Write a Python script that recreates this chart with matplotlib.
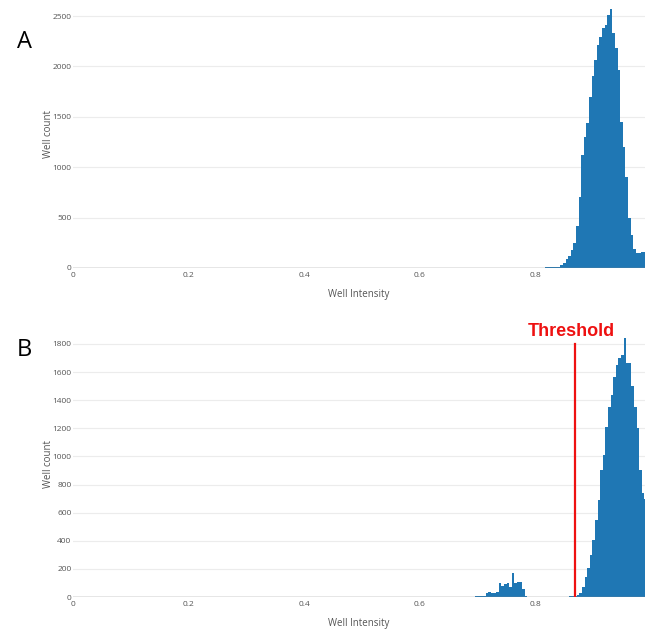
import numpy as np
import matplotlib.pyplot as plt

# histogram bin width (well intensity)
binW = 0.0045

# panel A - counts per bin, first bin starts at aStart
aStart = 0.803
aCounts = [1, 2, 4, 6, 8, 9, 10, 12, 14, 27, 47, 86, 119, 180, 250, 420, 700,
           1120, 1300, 1440, 1700, 1900, 2060, 2210, 2290, 2380, 2410, 2510,
           2570, 2330, 2180, 1960, 1450, 1200, 900, 500, 330, 190, 150, 150,
           160, 160]

# panel B - counts per bin, first bin starts at bStart
bStart = 0.6874
bCounts = [2, 3, 4, 5, 6, 8, 26, 36, 30, 30, 33, 102, 78, 90, 97, 69, 173, 97,
           105, 109, 60, 10, 3, 1, 0, 0, 0, 0, 0, 0, 0, 0, 0, 1, 1, 1, 2, 3, 5,
           6, 8, 14, 26, 73, 144, 204, 299, 406, 548, 690, 904, 1010, 1212,
           1354, 1437, 1568, 1650, 1698, 1722, 1841, 1665, 1665, 1500, 1350,
           1200, 900, 740, 700]
# a couple of stray wells far below the main groups
bStrayX = [0.604, 0.631]
bStrayCounts = [3, 3]

threshold = 0.868

aTicks = [0, 500, 1000, 1500, 2000, 2500]
bTicks = [0, 200, 400, 600, 800, 1000, 1200, 1400, 1600, 1800]
xTicks = [0, 0.2, 0.4, 0.6, 0.8]
xTickLabels = ["0", "0.2", "0.4", "0.6", "0.8"]

barColor = "#1f77b4"
txtColor = "#555555"
plt.rcParams['font.family'] = ['Open Sans', 'DejaVu Sans']

W, H = 645, 631
fig = plt.figure(figsize=(W / 100, H / 100), dpi=100)


def px_axes(left, top, right, bottom):
    return fig.add_axes([left / W, 1 - bottom / H, (right - left) / W, (bottom - top) / H])


def style(ax, yticks, ytop):
    ax.set_xlim(0, 0.99)
    ax.set_ylim(0, ytop)
    for s in ax.spines.values():
        s.set_visible(False)
    ax.set_yticks(yticks)
    ax.set_yticklabels([str(t) for t in yticks])
    ax.set_xticks(xTicks)
    ax.set_xticklabels(xTickLabels)
    ax.tick_params(length=0, labelsize=6, colors=txtColor, pad=3)
    ax.tick_params(axis='y', pad=1)
    ax.grid(axis='y', color='#ececec', lw=0.8)
    ax.set_axisbelow(True)
    ax.axhline(0, color='#8a8a8a', lw=1, zorder=3)
    ax.set_xlabel("Well Intensity", fontsize=7, color=txtColor, labelpad=7)
    ax.set_ylabel("Well count", fontsize=7, color=txtColor)
    # label centre sits at about x = 49 px
    ax.yaxis.set_label_coords(-19 / 572, 0.5)


def draw_hist(ax, start, counts):
    lefts = start + binW * np.arange(len(counts))
    ax.bar(lefts, counts, width=binW, align='edge', color=barColor, lw=0, zorder=2)


# panel A
axA = px_axes(73, 0, 645, 268)
draw_hist(axA, aStart, aCounts)
style(axA, aTicks, 2659)

# panel B
axB = px_axes(73, 332, 645, 597)
draw_hist(axB, bStart, bCounts)
axB.bar(bStrayX, bStrayCounts, width=binW, align='edge', color=barColor, lw=0, zorder=2)
style(axB, bTicks, 1885)
axB.plot([threshold, threshold], [0, 1800], color='#ee1111', lw=1.6, zorder=4)
axB.annotate("Threshold", xy=(threshold, 1800), xytext=(-2, 3), textcoords='offset points',
             ha='center', va='bottom', fontsize=13, fontweight='bold', color='#ee1111',
             family=['Liberation Sans', 'DejaVu Sans'], annotation_clip=False)

fig.text(17 / W, 1 - 42 / H, "A", fontsize=17, va='center', ha='left')
fig.text(17 / W, 1 - 350 / H, "B", fontsize=17, va='center', ha='left')

fig.savefig("out.png", dpi=100)
